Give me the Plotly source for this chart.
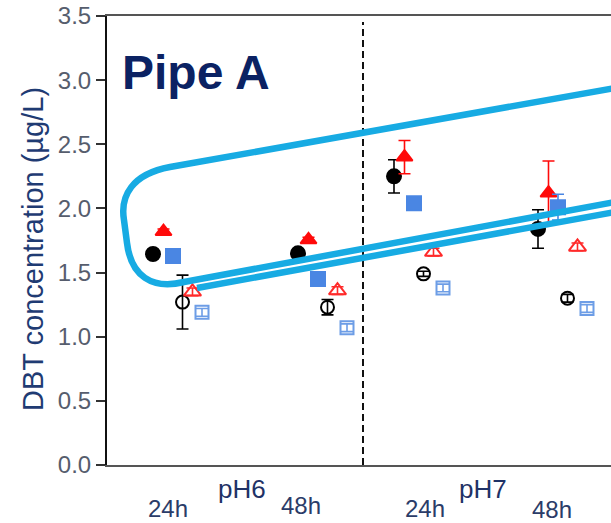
import plotly.graph_objects as go

# ---------------- data ----------------
groups = ["pH6 24h", "pH6 48h", "pH7 24h", "pH7 48h"]
group_x = [46, 191, 287, 431]          # x position of first marker in each group (axis units)
series_offset = [0, 10.5, 20, 29.5, 39.5, 49]

series_names = ["Filled circle", "Filled triangle", "Filled square",
                "Open circle", "Open triangle", "Open square"]
values = [
    [1.645, 1.65, 2.25, 1.84],   # filled black circle
    [1.82, 1.755, 2.40, 2.12],   # filled red triangle
    [1.63, 1.45, 2.04, 2.01],    # filled blue square
    [1.27, 1.23, 1.49, 1.30],    # open black circle
    [1.35, 1.36, 1.66, 1.70],    # open red triangle
    [1.19, 1.07, 1.38, 1.22],    # open blue square
]
errors = [
    [0.0, 0.03, 0.13, 0.15],
    [0.02, 0.02, 0.13, 0.25],
    [0.0, 0.0, 0.0, 0.10],
    [0.21, 0.06, 0.02, 0.03],
    [0.03, 0.03, 0.03, 0.03],
    [0.03, 0.03, 0.03, 0.03],
]
symbols = ["circle", "triangle-up", "square", "circle-open", "triangle-up-open", "square-open"]
colors = ["#000000", "#ff0a0a", "#4a86e3", "#000000", "#ff2a2a", "#6d9de6"]
sizes = [14, 14, 14, 13, 15, 13]

time_labels = ["24h", "48h", "24h", "48h"]
ph_labels = ["pH6", "pH7"]

# ---------------- geometry helpers ----------------
W, H = 611, 523
L, R, T, B = 107, 0, 16, 58
PW, PH = W - L - R, H - T - B


def px(xp):
    return (xp - L) / PW


def py(yp):
    return (H - B - yp) / PH


fig = go.Figure()
for i, name in enumerate(series_names):
    xs = [g + series_offset[i] for g in group_x]
    fig.add_trace(go.Scatter(
        x=xs, y=values[i], mode="markers", name=name,
        marker=dict(symbol=symbols[i], size=sizes[i], color=colors[i],
                    line=dict(width=2, color=colors[i])),
        error_y=dict(type="data", array=errors[i], visible=True,
                     color=colors[i], thickness=1.6, width=6),
        showlegend=False,
    ))

font_fam = "Arial, Liberation Sans, sans-serif"

annotations = []
# time labels
time_pos = [(168, 508), (301, 505), (425, 508), (552, 509)]
for (xp, yp), t in zip(time_pos, time_labels):
    annotations.append(dict(x=px(xp), y=py(yp), xref="paper", yref="paper",
                            text=t, showarrow=False, xanchor="center", yanchor="middle",
                            borderpad=0,
                            font=dict(family=font_fam, size=24, color="#2b3c68")))
ph_pos = [(242, 489), (483, 489)]
for (xp, yp), t in zip(ph_pos, ph_labels):
    annotations.append(dict(x=px(xp), y=py(yp), xref="paper", yref="paper",
                            text=t, showarrow=False, xanchor="center", yanchor="middle",
                            font=dict(family=font_fam, size=26, color="#1f3266")))
# y title
annotations.append(dict(x=px(33), y=py(249), xref="paper", yref="paper",
                        text="DBT concentration (µg/L)", textangle=-90, showarrow=False,
                        xanchor="center", yanchor="middle",
                        font=dict(family=font_fam, size=29, color="#1f3b73")))
# Pipe A
annotations.append(dict(x=px(120), y=py(72), xref="paper", yref="paper",
                        text="<b>Pipe A</b>", showarrow=False,
                        xanchor="left", yanchor="middle",
                        font=dict(family=font_fam, size=48, color="#0b2263")))


def path_from(points):
    s = ""
    for cmd, pts in points:
        s += cmd + " " + " ".join(f"{px(a):.4f},{py(b):.4f}" for a, b in pts) + " "
    return s.strip()


rounded = path_from([
    ("M", [(615, 88)]),
    ("L", [(170, 167)]),
    ("C", [(132, 174), (120, 196), (124, 220)]),
    ("L", [(127, 243)]),
    ("C", [(131, 276), (152, 290), (184, 282)]),
    ("L", [(615, 202)]),
])
second = path_from([("M", [(197, 288)]), ("L", [(615, 212)])])

shapes = [
    dict(type="line", xref="x", yref="paper", x0=256, x1=256, y0=0, y1=py(22),
         line=dict(color="#111111", width=2, dash="7px,4px"), layer="above"),
    dict(type="path", xref="paper", yref="paper", path=rounded,
         line=dict(color="#17abe3", width=6.5), layer="above"),
    dict(type="path", xref="paper", yref="paper", path=second,
         line=dict(color="#17abe3", width=6.5), layer="above"),
]

fig.update_layout(
    width=W, height=H,
    margin=dict(l=L, r=R, t=T, b=B),
    paper_bgcolor="white", plot_bgcolor="white",
    annotations=annotations, shapes=shapes,
    xaxis=dict(range=[0, PW], showline=True, linecolor="#555555", linewidth=2,
               mirror=True, showticklabels=False, ticks="", showgrid=False, zeroline=False,
               fixedrange=True),
    yaxis=dict(range=[0, 3.5], dtick=0.5, tickformat=".1f", ticks="outside", ticklen=9,
               tickwidth=1.5, tickcolor="#333333", showline=True, linecolor="#111111",
               linewidth=2, showgrid=False, zeroline=False,
               tickfont=dict(family=font_fam, size=24, color="#565d6d")),
)

fig.write_html("out.html")
